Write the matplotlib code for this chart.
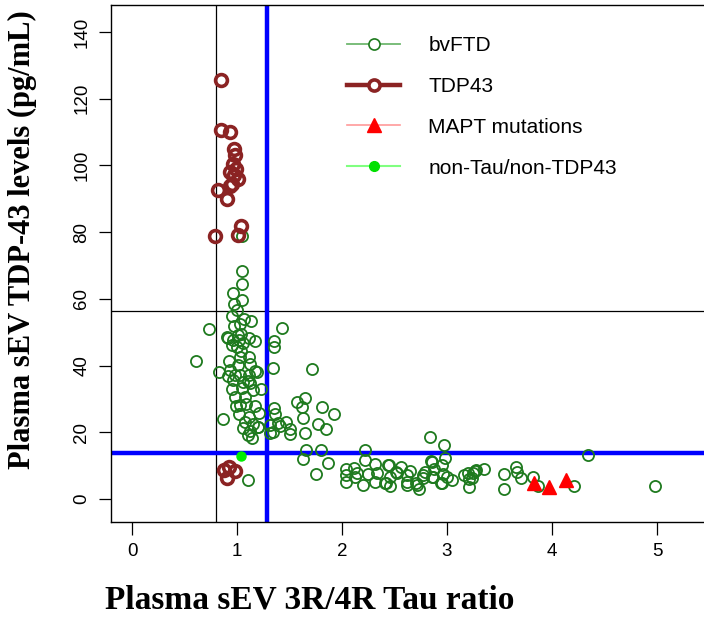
import matplotlib
matplotlib.use("Agg")
import matplotlib.pyplot as plt
from matplotlib.lines import Line2D

# ---------------- data ----------------
bvftd_x = [1.05, 1.05, 1.045, 0.965, 1.045, 0.97, 1.00, 0.95, 1.07, 1.13, 0.97, 1.03, 0.73, 1.43,
           1.04, 0.91, 0.965, 1.02, 1.11, 1.17, 1.35, 1.355, 1.06, 1.00, 1.035, 0.95, 0.61, 0.927,
           1.012, 1.12, 1.34, 1.717, 0.83, 0.935, 0.917, 0.98, 1.17, 1.19, 1.11, 0.96, 1.06, 1.124,
           0.95, 1.045, 1.15, 1.225, 0.98, 1.076, 1.57, 1.65, 1.62, 1.355, 1.81, 1.03, 1.086, 0.99,
           1.17, 0.864, 1.02, 1.21, 1.365, 1.626, 1.927, 1.076, 1.155, 1.197, 1.314, 1.41, 1.467,
           1.505, 1.774, 1.845, 1.06, 1.124, 1.314, 1.505, 1.65, 1.14, 1.10, 1.03, 1.11, 1.03, 1.10,
           1.01, 0.905, 1.11, 1.20, 1.34, 1.39,
           1.66, 1.80, 2.22, 1.63, 1.87, 2.22, 2.31, 1.75, 2.035, 2.11, 2.04, 2.14, 2.25, 2.33, 2.04,
           2.20, 2.31, 2.41, 2.44, 2.84, 2.97, 2.98, 2.845, 2.45, 2.56, 2.65, 2.95, 2.88, 3.355, 3.66,
           3.67, 3.54, 3.70, 3.20, 3.25, 3.27, 3.235, 3.165, 3.21, 3.54, 3.82, 3.87, 2.42, 2.46, 2.52,
           2.62, 2.62, 2.71, 2.73, 2.77, 2.87, 2.94, 3.00, 3.045, 2.79, 2.96, 2.12, 4.34, 4.21, 4.98,
           1.10, 2.51, 2.46, 2.62, 2.70, 2.855, 2.95, 2.855, 2.77, 3.28, 3.21]
bvftd_y = [78.9, 68.3, 64.5, 61.8, 59.6, 58.6, 56.8, 54.8, 54.1, 53.4, 52.0, 52.4, 50.9, 51.4,
           49.6, 48.4, 47.6, 47.6, 48.4, 47.4, 47.3, 45.6, 46.9, 45.6, 44.4, 46.2, 41.3, 41.3,
           40.3, 40.4, 39.3, 38.9, 38.0, 38.7, 36.9, 37.2, 38.5, 38.0, 37.2, 35.7, 35.2, 34.7,
           32.9, 33.2, 32.7, 33.1, 30.7, 30.6, 29.2, 30.3, 27.6, 27.3, 27.6, 28.2, 28.5, 27.9,
           27.9, 23.9, 25.4, 25.9, 25.4, 24.4, 25.4, 23.2, 22.4, 21.5, 22.2, 21.8, 23.2,
           20.9, 22.6, 20.9, 21.2, 20.5, 19.7, 19.4, 19.8, 18.4, 19.2, 42.7, 42.5, 37.2, 35.5,
           49.2, 48.5, 24.7, 21.7, 20.2, 22.7,
           14.8, 14.8, 14.7, 12.0, 10.7, 11.6, 10.5, 7.5, 8.9, 9.3, 7.2, 7.7, 7.6, 7.9, 5.0,
           4.1, 5.2, 4.7, 10.2, 18.5, 16.2, 12.2, 11.5, 10.2, 9.5, 8.5, 10.2, 8.9, 8.9, 9.7,
           8.2, 7.4, 6.4, 7.7, 7.7, 8.4, 6.2, 7.2, 3.5, 3.0, 6.7, 3.9, 4.7, 3.9, 7.7,
           7.2, 4.2, 4.2, 2.9, 7.2, 6.7, 4.7, 6.5, 5.7, 8.2, 7.5, 6.7, 13.2, 3.9, 3.9,
           5.7, 8.2, 6.5, 5.2, 4.7, 11.2, 4.7, 6.5, 6.2, 8.7, 5.9]

tdp43_x = [0.85, 0.85, 0.93, 0.97, 0.98, 0.96, 0.99, 0.93, 0.97, 0.95, 0.93, 1.01, 0.82, 0.90,
           1.035, 0.79, 1.01, 0.876, 0.924, 0.98, 0.905]
tdp43_y = [125.5, 110.5, 110.0, 105.0, 103.0, 100.5, 99.0, 98.0, 97.0, 94.5, 93.8, 95.8, 92.5, 89.8,
           81.8, 78.9, 79.0, 8.7, 9.6, 8.4, 6.3]

mapt_x = [3.83, 3.97, 4.13]
mapt_y = [4.7, 3.5, 5.8]

nontau_x = [1.035]
nontau_y = [12.9]

vline_black = 0.80
hline_black = 56.4
vline_blue = 1.286
hline_blue = 13.8

x_ticks = [0, 1, 2, 3, 4, 5]
y_ticks = [0, 20, 40, 60, 80, 100, 120, 140]

legend_labels = ["bvFTD", "TDP43", "MAPT mutations", "non-Tau/non-TDP43"]

# ---------------- colors ----------------
c_green = "#1E7A1E"
c_red = "#8B2323"

W, H = 704, 631
fig = plt.figure(figsize=(W / 100, H / 100), dpi=100)
ax = fig.add_axes([111 / W, 1 - 522 / H, 609 / W, 517 / H])
ax.set_xlim(-0.2, 5.6)
ax.set_ylim(-6.9, 148.1)

ax.axvline(vline_black, color="black", lw=0.9, zorder=1)
ax.axhline(hline_black, color="black", lw=0.9, zorder=1)
ax.axvline(vline_blue, color="#0000FF", lw=3.2, zorder=1)
ax.axhline(hline_blue, color="#0000FF", lw=3.2, zorder=1)

ax.plot(bvftd_x, bvftd_y, linestyle="none", marker="o", ms=8, mfc="none", mec=c_green, mew=1.3, zorder=3)
ax.plot(tdp43_x, tdp43_y, linestyle="none", marker="o", ms=8.5, mfc="none", mec=c_red, mew=2.6, zorder=4)
ax.plot(mapt_x, mapt_y, linestyle="none", marker="^", ms=10, color="#FF0000", mec="#FF0000", zorder=5)
ax.plot(nontau_x, nontau_y, linestyle="none", marker="o", ms=6.5, color="#00EE00", mec="#00EE00", zorder=5)

ax.set_xticks(x_ticks)
ax.set_yticks(y_ticks)
ax.set_xticklabels([str(t) for t in x_ticks], fontsize=13.5, family="Liberation Sans")
ax.set_yticklabels([str(t) for t in y_ticks], fontsize=13.5, family="Liberation Sans",
                   rotation=90, va="center")
ax.tick_params(axis="both", direction="out", length=9, width=0.9, pad=6, colors="black")
for s in ax.spines.values():
    s.set_linewidth(1.0)
    s.set_color("black")

handles = [
    Line2D([], [], color="#6FB86F", lw=1.3, marker="o", ms=8, mfc="white", mec=c_green, mew=1.2),
    Line2D([], [], color=c_red, lw=3.2, marker="o", ms=8, mfc="white", mec=c_red, mew=2.6),
    Line2D([], [], color="#FF9A9A", lw=1.2, marker="^", ms=10, mfc="#FF0000", mec="#FF0000"),
    Line2D([], [], color="#80FF80", lw=1.5, marker="o", ms=7, mfc="#00E000", mec="#00E000"),
]
leg = fig.legend(handles, legend_labels, loc="upper left", bbox_to_anchor=(347 / W, 1 - 36 / H),
                 frameon=False, prop={"family": "Liberation Sans", "size": 15},
                 handlelength=2.55, handletextpad=1.35, labelspacing=1.05, borderpad=0,
                 borderaxespad=0)

fig.text(309.5 / W, 1 - 600 / H, "Plasma sEV 3R/4R Tau ratio", ha="center", va="center",
         family="Liberation Serif", weight="bold", fontsize=24)
fig.text(22 / W, 1 - 240 / H, "Plasma sEV TDP-43 levels (pg/mL)", ha="center", va="center",
         rotation=90, family="Liberation Serif", weight="bold", fontsize=22)

fig.savefig("out.png", dpi=100)
